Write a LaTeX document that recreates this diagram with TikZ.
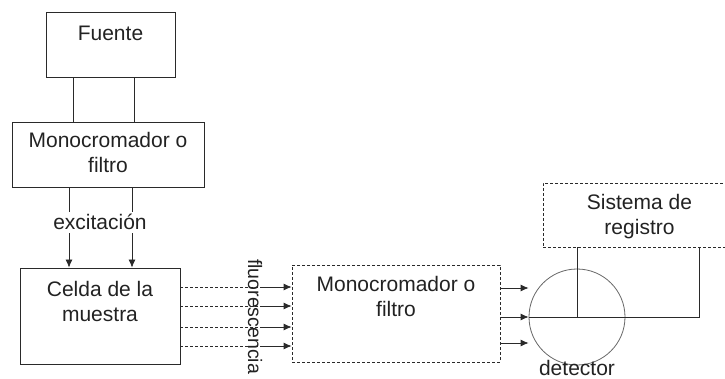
\documentclass[tikz,border=0pt]{standalone}
\usepackage{fontspec}
\setmainfont{Liberation Sans}
\usepackage{xcolor}
\usepackage{tikz}
\usetikzlibrary{
  arrows.meta,
  positioning,
  calc
}
\definecolor{LineGray}{HTML}{2A2A2A}
\definecolor{CircleGray}{HTML}{666666}
\definecolor{TextGray}{HTML}{222222}
\tikzset{
  block/.style={
    draw=LineGray,
    line width=0.8pt,
    inner sep=0pt
  },
  dashblock/.style={
    block,
    dash pattern=on 3pt off 2pt
  },
  boxtext/.style={
    anchor=north,
    align=center,
    inner sep=0pt,
    text=TextGray
  },
  wire/.style={
    draw=LineGray,
    line width=0.8pt
  },
  beam/.style={
    wire,
    -{Latex[length=8pt,width=7pt]}
  },
  signal/.style={
    wire,
    dash pattern=on 3pt off 2pt
  }
}

\begin{document}
\begin{tikzpicture}[x=1pt,y=-1pt,font=\fontsize{21}{25}\selectfont]

  \useasboundingbox (0,0) rectangle (725,379);

  \node[
    block,
    minimum width=129pt,
    minimum height=65pt,
    label={[boxtext,yshift=-14pt]north:Fuente}
  ] at (110.5,44.5) (fuente) {};

  \node[
    block,
    minimum width=192pt,
    minimum height=65pt,
    label={[boxtext,yshift=-10.5pt]north:{Monocromador o\\filtro}}
  ] at (108,154.5) (mono1) {};

  \node[
    block,
    minimum width=160pt,
    minimum height=96pt,
    label={[boxtext,yshift=-13.5pt]north:{Celda de la\\muestra}}
  ] at (100,316) (celda) {};

  \node[
    dashblock,
    minimum width=208pt,
    minimum height=97pt,
    label={[boxtext,yshift=-11.5pt]north:{Monocromador o\\filtro}}
  ] at (396,313.5) (mono2) {};

  \node[
    dashblock,
    minimum width=193pt,
    minimum height=64pt,
    label={[boxtext,yshift=-11.5pt]north:{Sistema de\\registro}}
  ] at (639.5,215) (registro) {};

  \node[
    circle,
    draw=CircleGray,
    line width=0.8pt,
    minimum size=96pt,
    inner sep=0pt
  ] at (577,317) (detector) {};

  \node[
    inner sep=0pt,
    text=TextGray,
    below=-5pt of detector
  ] (detlabel) {detector};

  % fuente -> monocromador
  \draw[wire]
  ([xshift=-37.5pt]fuente.south) --
  ([xshift=-37.5pt]fuente.south |- mono1.north);
  \draw[wire]
  ([xshift=23.5pt]fuente.south) --
  ([xshift=23.5pt]fuente.south |- mono1.north);

  % excitacion
  \draw[beam]
  ([xshift=-39pt]mono1.south) --
  ([xshift=-39pt]mono1.south |- celda.north);
  \draw[beam]
  ([xshift=24pt]mono1.south) --
  ([xshift=24pt]mono1.south |- celda.north);

  \node[
    fill=white,
    inner sep=3pt,
    anchor=base,
    text=TextGray
  ] at (100,230) (excit) {excitación};

  % fluorescencia
  \foreach \dy in {29,10,-11,-30} {
    \draw[signal]
    ($(celda.east)+(0,-\dy)$) --
    ($(celda.east)+(82,-\dy)$);
    \draw[beam]
    ($(celda.east)+(82,-\dy)$) --
    ($(celda.east -| mono2.west)+(0,-\dy)$);
  }

  \node[
    rotate=-90,
    anchor=west,
    inner sep=0pt,
    text=TextGray,
    font=\fontsize{19.5}{25}\selectfont
  ] at (255,259) (fluor) {fluorescencia};

  \foreach \dy in {29,0,-26} {
    \draw[beam]
    ($(detector.west -| mono2.east)+(1,-\dy)$) --
    ($(detector.west)+(0,-\dy)$);
  }

  % detector -> registro
  \draw[wire]
  (detector.center) --
  (detector.center |- registro.south);
  \draw[wire]
  (detector.west) -|
  ($(registro.south)+(59.5,0)$);

\end{tikzpicture}
\end{document}
